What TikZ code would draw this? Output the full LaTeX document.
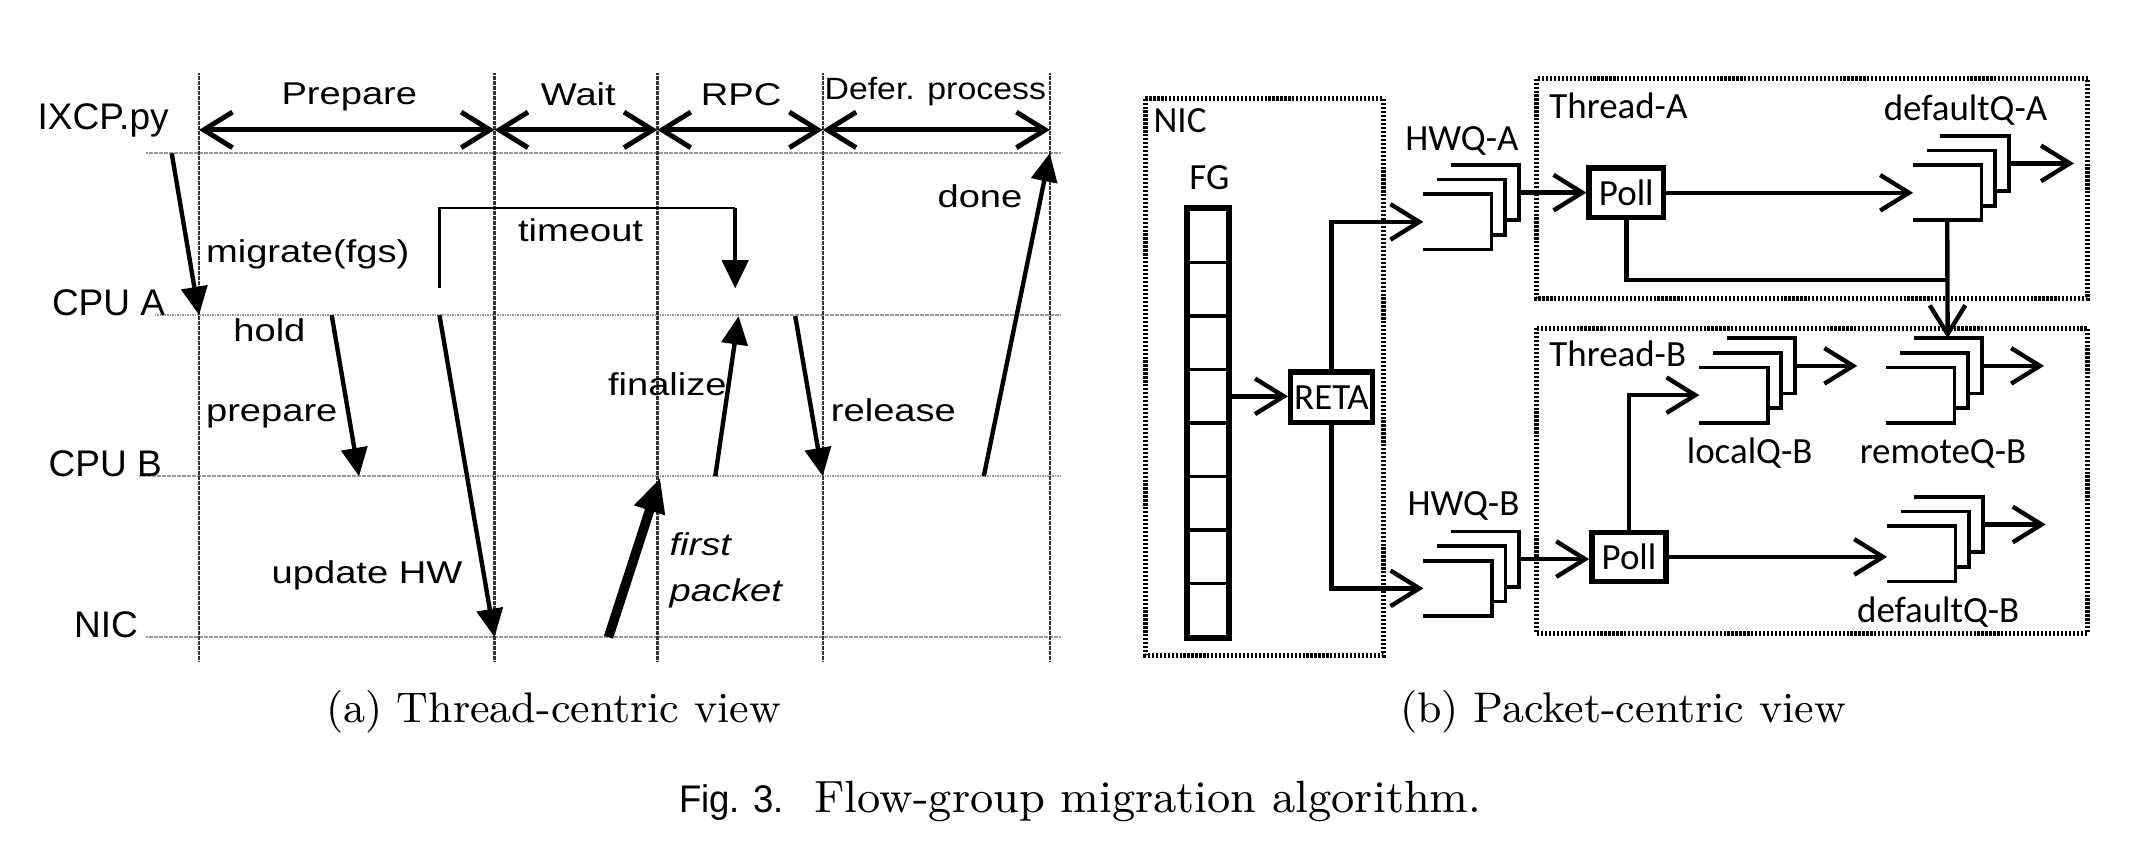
\documentclass[tikz,border=0pt]{standalone}
\usepackage{fontspec}
\usepackage{tikz}
\usetikzlibrary{arrows.meta}
\newfontfamily\lanefont{Liberation Sans}
\newfontfamily\seqfont[FakeStretch=1.21]{Liberation Sans}
\newfontfamily\deferfont[FakeStretch=1.1]{Liberation Sans}
\newfontfamily\figfont[FakeStretch=0.95]{Liberation Sans}
\newfontfamily\qfont{Carlito}

\newcommand{\qlayer}[2]{%
  \node[qbox] at (#2) (#1) {};
  \draw[qline] (#1.north west) -- (#1.north east) -- (#1.south east) -- (#1.south west);
}
\newcommand{\queue}[3]{%
  \qlayer{#1-3}{#2+20,#3-21.4}
  \qlayer{#1-2}{#2+10,#3-10.7}
  \qlayer{#1}{#2,#3}
}

\begin{document}
\begin{tikzpicture}[x=0.01cm, y=-0.01cm,
  >={Straight Barb[length=0.21cm,width=0.26cm]},
  lane/.style={gray!80, line width=0.014cm, dash pattern=on 0.4pt off 0.12pt},
  tick/.style={black!80, line width=0.018cm, dash pattern=on 0.4pt off 0.12pt},
  phase/.style={<->, line width=0.036cm},
  seq/.style={-{Triangle[length=0.207cm,width=0.19cm]}, line width=0.032cm},
  pkt/.style={-{Triangle[length=0.25cm,width=0.22cm]}, line width=0.07cm},
  tline/.style={line width=0.016cm},
  lanelbl/.style={inner sep=0, font={\lanefont\fontsize{7.7pt}{9pt}\selectfont}},
  seqlbl/.style={inner sep=0, font={\seqfont\fontsize{6.55pt}{8pt}\selectfont}},
  deflbl/.style={inner sep=0, font={\deferfont\fontsize{6.4pt}{8pt}\selectfont}},
  caplbl/.style={inner sep=0, font={\fontsize{8.9pt}{11pt}\selectfont}},
  figlbl/.style={inner sep=0, font={\figfont\fontsize{8pt}{10pt}\selectfont}},
  qlbl/.style={inner sep=0, font={\qfont\fontsize{7.68pt}{9pt}\selectfont}},
  dotbox/.style={line width=0.036cm, dash pattern=on 0.016cm off 0.013cm},
  qbox/.style={minimum width=0.485cm, minimum height=0.39cm, inner sep=0, fill=white},
  qline/.style={line width=0.027cm},
  fgcell/.style={draw, line width=0.024cm, minimum width=0.284cm, minimum height=0.391cm, inner sep=0},
  pollbox/.style={draw, line width=0.04cm, minimum width=0.543cm, minimum height=0.36cm, inner sep=0, qlbl},
  link/.style={->, line width=0.032cm}]
  \path[use as bounding box, fill=white] (0,0) rectangle (1568,631);

  % (a) thread-centric view
  \draw[lane] (107,111.7) -- (776,111.7);
  \draw[lane] (113,230.5) -- (776,230.5);
  \draw[lane] (102,348.3) -- (776,348.3);
  \draw[lane] (107,466) -- (776,466);
  \draw[tick] (145.6,53.7) -- (145.6,484);
  \draw[tick] (361.7,53.7) -- (361.7,484);
  \draw[tick] (480.8,53.7) -- (480.8,484);
  \draw[tick] (601.7,53.7) -- (601.7,484);
  \draw[tick] (767.8,53.7) -- (767.8,484);

  \node[lanelbl, anchor=base east] at (124,94.8) (ixcp) {IXCP.py};
  \node[lanelbl, anchor=base east] at (121.5,231) (cpua) {CPU A};
  \node[lanelbl, anchor=base east] at (119,348.3) (cpub) {CPU B};
  \node[lanelbl, anchor=base east] at (101.5,466) (nic) {NIC};

  \node[seqlbl, anchor=base] at (255.5,76.5) (prep) {Prepare};
  \node[seqlbl, anchor=base] at (423,77.3) (wait) {Wait};
  \node[seqlbl, anchor=base] at (542,77.3) (rpc) {RPC};
  \node[deflbl, anchor=base] at (684,72.7) (defer) {Defer. process};

  \coordinate (ph0) at (145.6,95);
  \coordinate (ph1) at (361.7,95);
  \coordinate (ph2) at (480.8,95);
  \coordinate (ph3) at (601.7,95);
  \coordinate (ph4) at (767.8,95);
  \draw[phase] (ph0) -- (ph1);
  \draw[phase] (ph1) -- (ph2);
  \draw[phase] (ph2) -- (ph3);
  \draw[phase] (ph3) -- (ph4);

  \coordinate (mig-s) at (125.6,112.2);
  \coordinate (mig-e) at (145.6,230.5);
  \coordinate (hold-s) at (242.6,230.5);
  \coordinate (hold-e) at (262.6,348.3);
  \coordinate (upd-s) at (321.4,230.5);
  \coordinate (upd-e) at (361.7,466);
  \coordinate (to-s) at (321.4,210.3);
  \coordinate (to-c) at (537.7,152);
  \coordinate (to-e) at (537.7,211);
  \coordinate (fin-s) at (523.1,348.3);
  \coordinate (fin-e) at (540.2,231.2);
  \coordinate (rel-s) at (581.6,231.2);
  \coordinate (rel-e) at (601.7,348.3);
  \coordinate (done-s) at (719.5,348.3);
  \coordinate (done-e) at (767.8,112);
  \coordinate (pkt-s) at (445,466);
  \coordinate (pkt-e) at (482.8,349.5);

  \draw[seq] (mig-s) -- (mig-e);
  \draw[seq] (hold-s) -- (hold-e);
  \draw[seq] (upd-s) -- (upd-e);
  \draw[tline] (to-s) |- (to-c);
  \draw[seq] (to-c) -- (to-e);
  \draw[seq] (fin-s) -- (fin-e);
  \draw[seq] (rel-s) -- (rel-e);
  \draw[seq] (done-s) -- (done-e);
  \draw[pkt] (pkt-s) -- (pkt-e);

  \node[seqlbl, anchor=base west] at (150,192) (migrate) {migrate(fgs)};
  \node[seqlbl, anchor=base west] at (170,250) (hold) {hold};
  \node[seqlbl, anchor=base west] at (150,308.6) (prepare) {prepare};
  \node[seqlbl, anchor=base west] at (198,427) (update) {update HW};
  \node[seqlbl, anchor=base east] at (471,176.8) (timeout) {timeout};
  \node[seqlbl, anchor=base west] at (444,289) (finalize) {finalize};
  \node[seqlbl, anchor=base west] at (607,308.6) (release) {release};
  \node[seqlbl, anchor=base west] at (685,152) (done) {done};
  \node[seqlbl, anchor=base west, font={\seqfont\itshape\fontsize{6.55pt}{8pt}\selectfont}] at (489,406) (first) {first};
  \node[seqlbl, anchor=base west, font={\seqfont\itshape\fontsize{6.55pt}{8pt}\selectfont}] at (489,440) (packet) {packet};

  % (b) packet-centric view
  \draw[dotbox] (837.6,72.1) rectangle (1011.5,479.5);
  \draw[dotbox] (1123.6,57.5) rectangle (1527,218.5);
  \draw[dotbox] (1123.6,240) rectangle (1527,463);

  \node[qlbl, anchor=base west] at (843,96.7) (niclbl) {NIC};
  \node[qlbl, anchor=base] at (884.5,138.9) (fglbl) {FG};
  \node[qlbl, anchor=base] at (1069.2,110) (hwqalbl) {HWQ-A};
  \node[qlbl, anchor=base] at (1070.3,377) (hwqblbl) {HWQ-B};
  \node[qlbl, anchor=base west] at (1132.5,86.6) (thalbl) {Thread-A};
  \node[qlbl, anchor=base west] at (1132.5,268) (thblbl) {Thread-B};
  \node[qlbl, anchor=base] at (1437.5,88.3) (dqalbl) {defaultQ-A};
  \node[qlbl, anchor=base] at (1279.6,339) (lqblbl) {localQ-B};
  \node[qlbl, anchor=base] at (1421,339) (rqblbl) {remoteQ-B};
  \node[qlbl, anchor=base] at (1417.5,455.5) (dqblbl) {defaultQ-B};

  \node[fgcell] at (883.3,172.55) (fg1) {};
  \node[fgcell] at (883.3,211.65) (fg2) {};
  \node[fgcell] at (883.3,250.75) (fg3) {};
  \node[fgcell] at (883.3,289.85) (fg4) {};
  \node[fgcell] at (883.3,328.95) (fg5) {};
  \node[fgcell] at (883.3,368.05) (fg6) {};
  \node[fgcell] at (883.3,407.15) (fg7) {};
  \node[fgcell] at (883.3,446.25) (fg8) {};
  \draw[line width=0.04cm] (fg1.north west) rectangle (fg8.south east);

  \node[pollbox, minimum width=0.597cm, minimum height=0.37cm] at (973.8,290.5) (reta) {RETA};
  \node[pollbox] at (1189.4,141) (polla) {Poll};
  \node[pollbox] at (1191.4,407.3) (pollb) {Poll};

  \queue{hwqa}{1065.9}{162.3}
  \queue{hwqb}{1066}{430.3}
  \queue{dqa}{1424.1}{140.9}
  \queue{lqb}{1267.8}{289}
  \queue{rqb}{1404.4}{289}
  \queue{dqb}{1405.1}{405}

  \coordinate (dqa-out) at (1516.8,119.5);
  \coordinate (lqb-out) at (1358.3,267.6);
  \coordinate (rqb-out) at (1494.9,267.6);
  \coordinate (dqb-out) at (1496.1,383.6);
  \coordinate (merge) at (1424.1,204.9);

  \draw[link] (fg4.east) -- (fg4.east -| reta.west);
  \draw[link] (reta.north) |- (hwqa.west);
  \draw[link] (reta.south) |- (hwqb.west);
  \draw[link] (hwqa-3.east) -- (hwqa-3.east -| polla.west);
  \draw[link] (hwqb-3.east) -- (hwqb-3.east -| pollb.west);
  \draw[link] (polla.east) -- (polla.east -| dqa.west);
  \draw[line width=0.032cm] (polla.south) |- (merge);
  \draw[link] (dqa.south) -- (rqb-3.north);
  \draw[link] (pollb.east) -- (pollb.east -| dqb.west);
  \draw[link] (pollb.north) |- (lqb.west);
  \draw[link] (dqa-3.east) -- (dqa-out);
  \draw[link] (lqb-3.east) -- (lqb-out);
  \draw[link] (rqb-3.east) -- (rqb-out);
  \draw[link] (dqb-3.east) -- (dqb-out);

  % captions
  \node[caplbl, anchor=base] at (404.8,528.6) (capa) {(a) Thread-centric view};
  \node[caplbl, anchor=base] at (1187,528.6) (capb) {(b) Packet-centric view};
  \node[figlbl, anchor=base west] at (496,594) (fignum) {Fig. 3.};
  \node[caplbl, anchor=base west, font={\fontsize{9.4pt}{11pt}\selectfont}] at (595,594) (figtxt) {Flow-group migration algorithm.};
\end{tikzpicture}
\end{document}
